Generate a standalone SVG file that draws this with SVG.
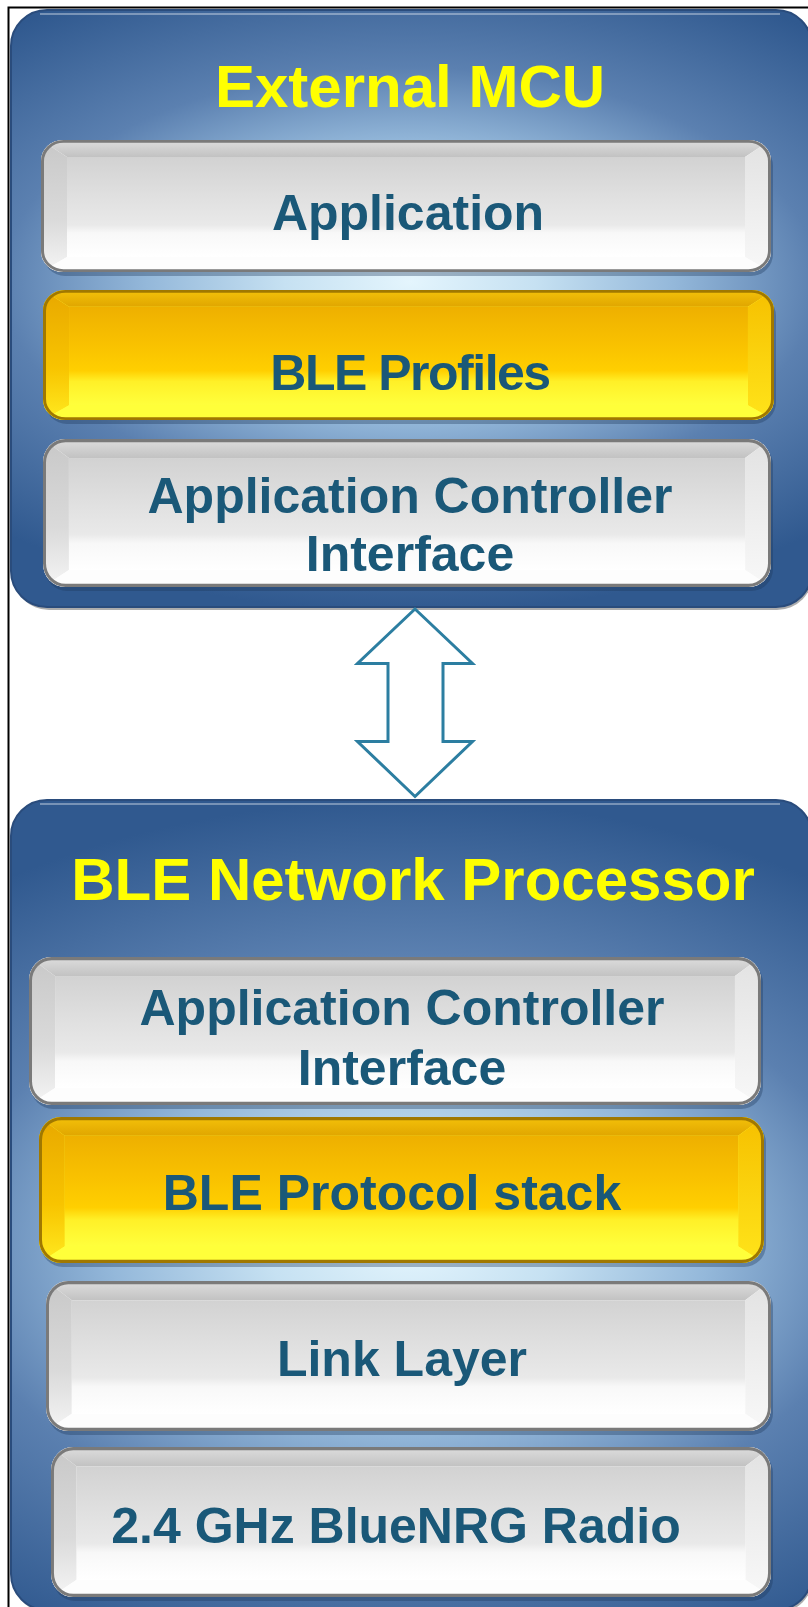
<svg xmlns="http://www.w3.org/2000/svg" width="808" height="1607" viewBox="0 0 808 1607">
<style>
.lbl{font-family:"Liberation Sans",Arial,sans-serif;font-weight:bold;font-size:50px;fill:#1a5878;text-anchor:middle}
.ttl{font-family:"Liberation Sans",Arial,sans-serif;font-weight:bold;font-size:60px;fill:#ffff00;text-anchor:middle}
.shd{fill:#1c3658;opacity:.35}
.boxrim{fill:none;stroke:#2a4c7c;stroke-width:2}
.hl{fill:none;stroke:#ffffff;stroke-opacity:.35;stroke-width:2}
.conn{fill:#ffffff;stroke:#2c7ea1;stroke-width:3;stroke-linejoin:miter}
</style>
<defs>
<radialGradient id="gTopBox" gradientUnits="userSpaceOnUse" cx="410" cy="282" r="330" gradientTransform="translate(410 282) scale(1.9 1) translate(-410 -282)">
<stop offset="0" stop-color="#e4f5fd"/><stop offset=".2" stop-color="#c6e1f2"/><stop offset=".42" stop-color="#94b8da"/><stop offset=".65" stop-color="#5b80b0"/><stop offset="1" stop-color="#30598f"/>
</radialGradient>
<radialGradient id="gBotBox" gradientUnits="userSpaceOnUse" cx="410" cy="1245" r="445" gradientTransform="translate(410 1245) scale(1.6 1) translate(-410 -1245)">
<stop offset="0" stop-color="#e4f5fd"/><stop offset=".2" stop-color="#c6e1f2"/><stop offset=".42" stop-color="#94b8da"/><stop offset=".65" stop-color="#5b80b0"/><stop offset="1" stop-color="#30598f"/>
</radialGradient>
<linearGradient id="gFace" x1="0" y1="0" x2="0" y2="1">
<stop offset="0" stop-color="#d2d2d2"/><stop offset=".4" stop-color="#e0e0e0"/><stop offset=".68" stop-color="#e9e9e9"/><stop offset=".76" stop-color="#f8f8f8"/><stop offset="1" stop-color="#ffffff"/>
</linearGradient>
<linearGradient id="gTop" x1="0" y1="0" x2="0" y2="1"><stop offset="0" stop-color="#dedede"/><stop offset="1" stop-color="#c2c2c2"/></linearGradient>
<linearGradient id="gLeft" x1="0" y1="0" x2="0" y2="1"><stop offset="0" stop-color="#c8c8c8"/><stop offset=".6" stop-color="#dadada"/><stop offset="1" stop-color="#f5f5f5"/></linearGradient>
<linearGradient id="gRight" x1="0" y1="0" x2="0" y2="1"><stop offset="0" stop-color="#e2e2e2"/><stop offset="1" stop-color="#f8f8f8"/></linearGradient>
<linearGradient id="yFace" x1="0" y1="0" x2="0" y2="1">
<stop offset="0" stop-color="#eeb000"/><stop offset=".35" stop-color="#f8c000"/><stop offset=".65" stop-color="#ffcf00"/><stop offset=".76" stop-color="#fff028"/><stop offset="1" stop-color="#ffff3c"/>
</linearGradient>
<linearGradient id="yTop" x1="0" y1="0" x2="0" y2="1"><stop offset="0" stop-color="#f4c20a"/><stop offset="1" stop-color="#e0a600"/></linearGradient>
<linearGradient id="yLeft" x1="0" y1="0" x2="0" y2="1"><stop offset="0" stop-color="#e8a800"/><stop offset=".6" stop-color="#f8c400"/><stop offset="1" stop-color="#ffea20"/></linearGradient>
<linearGradient id="yRight" x1="0" y1="0" x2="0" y2="1"><stop offset="0" stop-color="#f6c000"/><stop offset="1" stop-color="#ffe41a"/></linearGradient>
<clipPath id="btnClip"><rect x="0" y="0" width="730" height="140" rx="22"/></clipPath>
<symbol id="btnGray" viewBox="0 0 730 140" preserveAspectRatio="none">
<g clip-path="url(#btnClip)">
<rect width="730" height="140" fill="#ffffff"/>
<polygon points="0,0 730,0 704,18 26,18" fill="url(#gTop)"/>
<polygon points="0,0 26,18 26,124 0,140" fill="url(#gLeft)"/>
<polygon points="730,0 704,18 704,124 730,140" fill="url(#gRight)"/>
<polygon points="0,140 26,124 704,124 730,140" fill="#fdfdfd"/>
<rect x="26" y="18" width="678" height="106" fill="url(#gFace)"/>
</g>
<rect x="1.5" y="1.5" width="727" height="137" rx="21" fill="none" stroke="#7a7a7a" stroke-width="3"/>
</symbol>
<symbol id="btnGold" viewBox="0 0 730 140" preserveAspectRatio="none">
<g clip-path="url(#btnClip)">
<rect width="730" height="140" fill="#ffff3a"/>
<polygon points="0,0 730,0 704,18 26,18" fill="url(#yTop)"/>
<polygon points="0,0 26,18 26,124 0,140" fill="url(#yLeft)"/>
<polygon points="730,0 704,18 704,124 730,140" fill="url(#yRight)"/>
<polygon points="0,140 26,124 704,124 730,140" fill="#ffff3a"/>
<rect x="26" y="18" width="678" height="106" fill="url(#yFace)"/>
</g>
<rect x="1.5" y="1.5" width="727" height="137" rx="21" fill="none" stroke="#a07800" stroke-width="3"/>
</symbol>
</defs>

<rect width="808" height="1607" fill="#ffffff"/>
<path d="M8.5 1607 V7.5 H808" fill="none" stroke="#000000" stroke-width="2"/>

<g id="external-mcu">
<rect x="13" y="13" width="800" height="597" rx="36" fill="#4a4a4a" opacity=".45"/>
<rect x="11" y="10" width="801" height="597" rx="36" fill="url(#gTopBox)"/>
<rect x="11" y="10" width="801" height="597" rx="36" class="boxrim"/>
<path d="M40 14 H780" class="hl"/>
<text class="ttl" x="410" y="107">External MCU</text>
</g>

<g id="application">
<rect x="43" y="144" width="730" height="132" rx="22" class="shd"/>
<use href="#btnGray" x="41" y="140" width="730" height="132"/>
<text class="lbl" x="408" y="230">Application</text>
</g>

<g id="ble-profiles">
<rect x="45" y="294" width="731" height="130" rx="22" class="shd"/>
<use href="#btnGold" x="43" y="290" width="731" height="130"/>
<text class="lbl" x="410" y="390" letter-spacing="-1.5">BLE Profiles</text>
</g>

<g id="aci-mcu">
<rect x="45" y="443" width="728" height="148" rx="22" class="shd"/>
<use href="#btnGray" x="43" y="439" width="728" height="148"/>
<text class="lbl" x="410" y="513">Application Controller</text>
<text class="lbl" x="410" y="571">Interface</text>
</g>

<g id="connectors">
<path class="conn" d="M415 609 L472.5 663.5 L443 663.5 L443 741.5 L472.5 741.5 L415 796.5 L357.5 741.5 L388 741.5 L388 663.5 L357.5 663.5 Z"/>
</g>

<g id="ble-network-processor">
<rect x="13" y="803" width="800" height="810" rx="36" fill="#4a4a4a" opacity=".45"/>
<rect x="11" y="800" width="801" height="810" rx="36" fill="url(#gBotBox)"/>
<rect x="11" y="800" width="801" height="810" rx="36" class="boxrim"/>
<path d="M40 804 H780" class="hl"/>
<text class="ttl" x="413" y="900">BLE Network Processor</text>
</g>

<g id="aci-np">
<rect x="31" y="961" width="732" height="148" rx="22" class="shd"/>
<use href="#btnGray" x="29" y="957" width="732" height="148"/>
<text class="lbl" x="402" y="1025">Application Controller</text>
<text class="lbl" x="402" y="1085">Interface</text>
</g>

<g id="ble-protocol-stack">
<rect x="41" y="1121" width="725" height="146" rx="22" class="shd"/>
<use href="#btnGold" x="39" y="1117" width="725" height="146"/>
<text class="lbl" x="392" y="1210">BLE Protocol stack</text>
</g>

<g id="link-layer">
<rect x="48" y="1285" width="725" height="150" rx="22" class="shd"/>
<use href="#btnGray" x="46" y="1281" width="725" height="150"/>
<text class="lbl" x="402" y="1376">Link Layer</text>
</g>

<g id="radio">
<rect x="53" y="1451" width="720" height="150" rx="22" class="shd"/>
<use href="#btnGray" x="51" y="1447" width="720" height="150"/>
<text class="lbl" x="396" y="1543">2.4 GHz BlueNRG Radio</text>
</g>
</svg>
